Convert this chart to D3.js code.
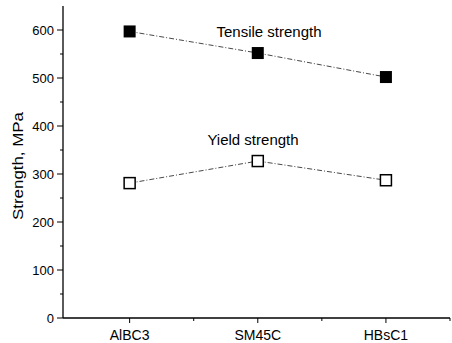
<!DOCTYPE html>
<html>
<head>
<meta charset="utf-8">
<script src="https://cdn.jsdelivr.net/npm/d3@7"></script>
<style>
  body { margin: 0; background: #fff; }
  text { font-family: "Liberation Sans", Arial, sans-serif; fill: #000; }
</style>
</head>
<body>
<script>
const width = 452;
const height = 343;

// data
const steels = ["AlBC3", "SM45C", "HBsC1"];
const tensile = [597, 552, 502];
const yieldStr = [281, 327, 287];
const yTicks = [0, 100, 200, 300, 400, 500, 600];

const svg = d3.select("body")
    .append("svg")
    .attr("width", width)
    .attr("height", height);

const x = d3.scaleLinear().domain([-0.52, 2.5]).range([63, 450]);
const y = d3.scaleLinear().domain([0, 650]).range([318, 6]);

// y axis
svg.append("line")
    .attr("x1", x(-0.52)).attr("x2", x(-0.52))
    .attr("y1", y(0)).attr("y2", y(650))
    .attr("stroke", "#000").attr("stroke-width", 1.3);

svg.selectAll(".ymin")
    .data(d3.range(50, 650, 100))
    .enter().append("line")
    .attr("x1", x(-0.52) - 3).attr("x2", x(-0.52))
    .attr("y1", d => y(d)).attr("y2", d => y(d))
    .attr("stroke", "#000");

svg.selectAll(".ymaj")
    .data(yTicks)
    .enter().append("line")
    .attr("x1", x(-0.52) - 6).attr("x2", x(-0.52))
    .attr("y1", d => y(d)).attr("y2", d => y(d))
    .attr("stroke", "#000");

svg.selectAll(".ylab")
    .data(yTicks)
    .enter().append("text")
    .attr("x", x(-0.52) - 9)
    .attr("y", d => y(d) + 4.5)
    .attr("text-anchor", "end")
    .attr("font-size", 13)
    .text(d => d);

svg.append("text")
    .attr("transform", "translate(23,166) rotate(-90)")
    .attr("text-anchor", "middle")
    .attr("font-size", 15)
    .attr("textLength", 108)
    .attr("lengthAdjust", "spacingAndGlyphs")
    .text("Strength, MPa");

// x axis
svg.append("line")
    .attr("x1", x(-0.52)).attr("x2", x(2.5))
    .attr("y1", y(0)).attr("y2", y(0))
    .attr("stroke", "#000").attr("stroke-width", 1.3);

svg.selectAll(".xmaj")
    .data(steels)
    .enter().append("line")
    .attr("x1", (d, i) => x(i)).attr("x2", (d, i) => x(i))
    .attr("y1", y(0)).attr("y2", y(0) + 5)
    .attr("stroke", "#000");

svg.selectAll(".xmin")
    .data([0.5, 1.5, 2.5])
    .enter().append("line")
    .attr("x1", d => x(d)).attr("x2", d => x(d))
    .attr("y1", y(0)).attr("y2", y(0) + 3)
    .attr("stroke", "#000");

svg.selectAll(".xlab")
    .data(steels)
    .enter().append("text")
    .attr("x", (d, i) => x(i))
    .attr("y", 340)
    .attr("text-anchor", "middle")
    .attr("font-size", 14)
    .text(d => d);

// lines
const line = d3.line()
    .x((d, i) => x(i))
    .y(d => y(d));

[tensile, yieldStr].forEach(s => {
    svg.append("path")
        .attr("d", line(s))
        .attr("fill", "none")
        .attr("stroke", "#333")
        .attr("stroke-width", 0.9)
        .attr("stroke-dasharray", "5,2,1,2");
});

// markers
const sz = 12;
svg.selectAll(".tens")
    .data(tensile)
    .enter().append("rect")
    .attr("x", (d, i) => x(i) - sz / 2)
    .attr("y", d => y(d) - sz / 2)
    .attr("width", sz).attr("height", sz)
    .attr("fill", "#000");

const so = 11;
svg.selectAll(".yld")
    .data(yieldStr)
    .enter().append("rect")
    .attr("x", (d, i) => x(i) - so / 2)
    .attr("y", d => y(d) - so / 2)
    .attr("width", so).attr("height", so)
    .attr("fill", "#fff")
    .attr("stroke", "#000")
    .attr("stroke-width", 1.5);

// series labels
svg.append("text")
    .attr("x", 269).attr("y", 37)
    .attr("text-anchor", "middle")
    .attr("font-size", 15)
    .text("Tensile strength");

svg.append("text")
    .attr("x", 253).attr("y", 145)
    .attr("text-anchor", "middle")
    .attr("font-size", 15)
    .text("Yield strength");
</script>
</body>
</html>
